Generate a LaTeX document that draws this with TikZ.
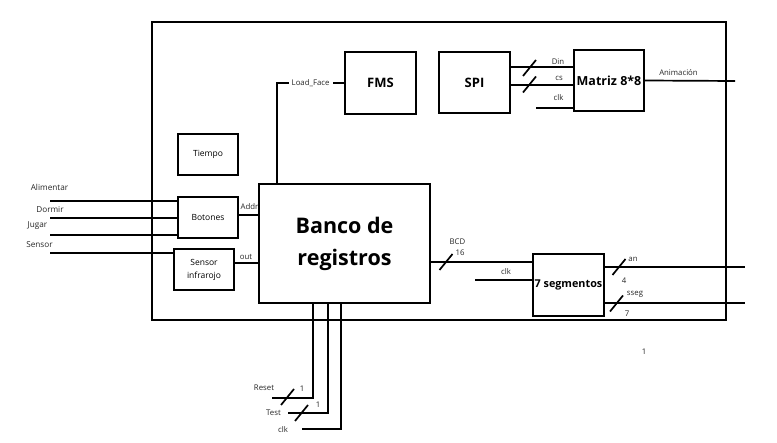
\documentclass[tikz,border=0pt]{standalone}
\usepackage{fontspec}
\setmainfont{Open Sans}
\usepackage{tikz}
\usetikzlibrary{positioning, calc}
\tikzset{
  block/.style={draw, line width=1.7pt, inner sep=0pt, align=center, font=\fontsize{8.5}{11}\selectfont},
  title/.style={font=\fontsize{13}{15}\selectfont\bfseries},
  wire/.style={line width=1.7pt},
  tag/.style={inner sep=1pt, text=black!85, font=\fontsize{7.8}{9}\selectfont}
}
\newcommand{\busmark}[2]{%
  \draw[wire] ($(#1,#2)+(-6.5,8)$) -- ($(#1,#2)+(6.5,-8)$);
}

\begin{document}
\begin{tikzpicture}[x=1pt, y=-1pt]
        \useasboundingbox (0,0) rectangle (777,443);
        % Frame
        \node[block, minimum width=574, minimum height=298] (frame) at (439,171) {};

        % Blocks
        \node[block, title, minimum width=71, minimum height=62] (fms)    at (380.5, 83) {FMS};
        \node[block, title, minimum width=71, minimum height=61] (spi)    at (474.5, 82.5) {SPI};
        \node[block, minimum width=70, minimum height=61, font=\fontsize{12.5}{14}\selectfont\bfseries] (matriz) at (609, 80.5) {Matriz 8*8};
        \node[block, minimum width=60, minimum height=41] (tiempo)  at (208,154.5) {Tiempo};
        \node[block, minimum width=60, minimum height=41] (botones) at (208,217.5) {Botones};
        \node[block, minimum width=60, minimum height=41, font=\fontsize{8.5}{13}\selectfont] (sensor) at (204,269.5) {Sensor\\infrarojo};
        \node[block, minimum width=171, minimum height=119, font=\fontsize{21.5}{32}\selectfont\bfseries] (banco) at (344.5,243.5) {Banco de\\registros};
        \node[block, minimum width=71, minimum height=62, font=\fontsize{10.8}{12}\selectfont\bfseries] (seg) at (568.5,285) {7 segmentos};

        % Free ends
        \coordinate (alim)  at (50,201);
        \coordinate (dorm)  at (50,218);
        \coordinate (jug)   at (50,235);
        \coordinate (sens)  at (50,253);
        \coordinate (mclk)  at (536,108);
        \coordinate (anim)  at (735,81);
        \coordinate (sclk)  at (475,280);
        \coordinate (an)    at (745,267);
        \coordinate (sseg)  at (745,303);
        \coordinate (rst)   at (272,398);
        \coordinate (tst)   at (288,413);
        \coordinate (bclk)  at (302,429);

        % Inputs
        \draw[wire] (alim) -- (alim -| botones.west);
        \draw[wire] (dorm) -- (dorm -| botones.west);
        \draw[wire] (jug)  -- (jug -| botones.west);
        \draw[wire] (sens) -- (sens -| sensor.west);
        \node[tag, font=\fontsize{8.2}{9}\selectfont] (lalim) at (49.5,187) {Alimentar};
        \node[tag, font=\fontsize{8.2}{9}\selectfont] (ldorm) at (50,210) {Dormir};
        \node[tag, font=\fontsize{8.2}{9}\selectfont] (ljug)  at (37.5,226) {Jugar};
        \node[tag, font=\fontsize{8.2}{9}\selectfont] (lsens) at (39.5,245) {Sensor};

        % Into the register bank
        \draw[wire] ([yshift=2.5pt]botones.east) -- ([yshift=2.5pt]botones.east -| banco.west);
        \draw[wire] ([yshift=6.5pt]sensor.east) -- ([yshift=6.5pt]sensor.east -| banco.west);
        \node[tag] (laddr) at (249.5,207) {Addr};
        \node[tag] (lout)  at (246,257) {out};
        \draw[wire] ([xshift=19pt]banco.north west) |- node[pos=0.75, fill=white, tag, inner sep=3pt] (lload) {Load\_Face} (fms.west);

        % SPI to matrix
        \draw[wire] ([yshift=15.5pt]spi.east) -- ([yshift=15.5pt]spi.east -| matriz.west);
        \draw[wire] ([yshift=-2.5pt]spi.east) -- ([yshift=-2.5pt]spi.east -| matriz.west);
        \draw[wire] (mclk) -- (mclk -| matriz.west);
        \busmark{529.5}{68}
        \busmark{529.5}{84.5}
        \node[tag] (ldin)  at (558,62) {Din};
        \node[tag] (lcs)   at (559,78) {cs};
        \node[tag] (lmclk) at (558.5,98) {clk};
        \draw[wire] (matriz.east) -- (anim);
        \node[tag] (lanim) at (678.5,73) {Animación};

        % 7 segment display
        \draw[wire] ([yshift=-18.5pt]banco.east) -- ([yshift=-18.5pt]banco.east -| seg.west);
        \busmark{446}{262}
        \node[tag] (lbcd) at (457.5,242) {BCD};
        \node[tag] (l16)  at (460,253) {16};
        \draw[wire] (sclk) -- (sclk -| seg.west);
        \node[tag] (lsclk) at (506,272) {clk};
        \draw[wire] (an -| seg.east) -- (an);
        \draw[wire] (sseg -| seg.east) -- (sseg);
        \busmark{619}{267}
        \busmark{616.5}{303.5}
        \node[tag] (lan)   at (633,259) {an};
        \node[tag] (l4)    at (624,281) {4};
        \node[tag] (lsseg) at (635,294) {sseg};
        \node[tag] (l7)    at (627,314) {7};

        % Reset, Test, clk
        \draw[wire] ([xshift=55pt]banco.south west) |- (rst);
        \draw[wire] ([xshift=70pt]banco.south west) |- (tst);
        \draw[wire] ([xshift=83pt]banco.south west) |- (bclk);
        \busmark{287.5}{397}
        \busmark{301.5}{413}
        \node[tag] (lrst)  at (264,388) {Reset};
        \node[tag] (l1a)   at (302,389) {1};
        \node[tag] (ltst)  at (273.5,413) {Test};
        \node[tag] (l1b)   at (318,405) {1};
        \node[tag] (lbclk) at (283,430) {clk};
        \node[tag] (l1c)   at (644,352) {1};
    \end{tikzpicture}
\end{document}
